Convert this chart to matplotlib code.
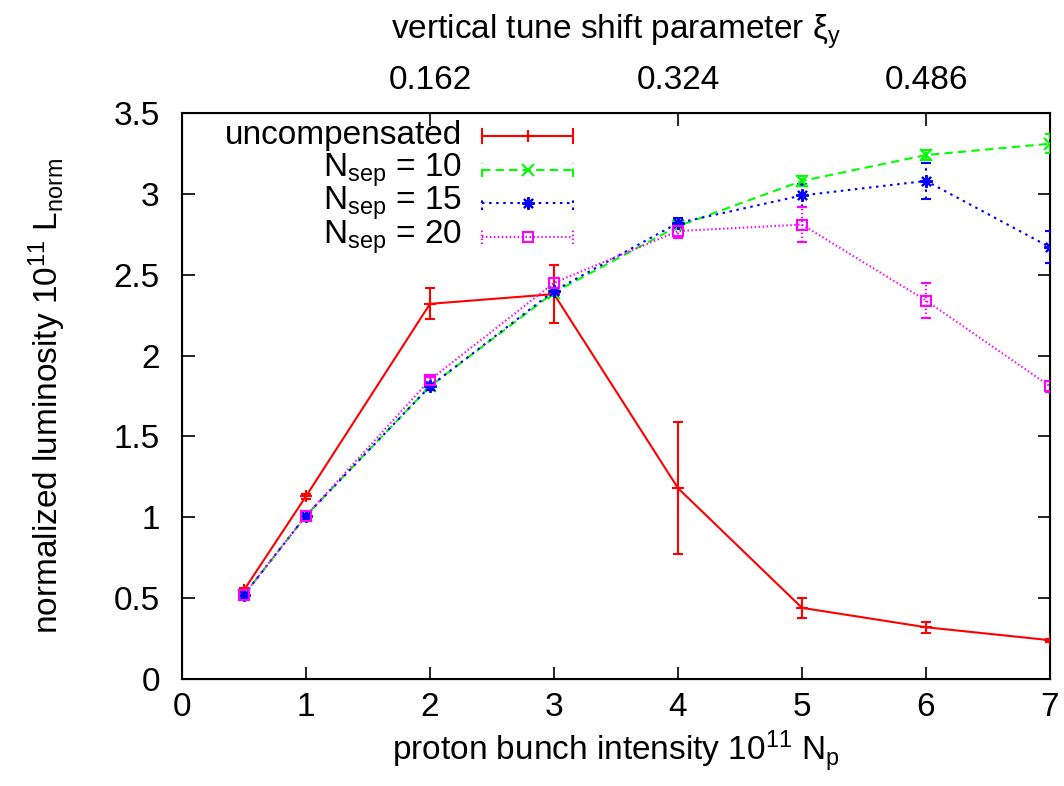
import matplotlib
matplotlib.use("Agg")
import matplotlib.pyplot as plt
from matplotlib.lines import Line2D

plt.rcParams['font.family'] = ['Liberation Sans', 'DejaVu Sans']
plt.rcParams['mathtext.fontset'] = 'custom'
plt.rcParams['mathtext.rm'] = 'Liberation Sans'
plt.rcParams['mathtext.it'] = 'Liberation Sans'
plt.rcParams['mathtext.default'] = 'regular'

# proton bunch intensity (1e11)
intensity = [0.5, 1, 2, 3, 4, 5, 6, 7]

# normalized luminosity and its uncertainty for each configuration
uncomp = [0.55, 1.13, 2.32, 2.38, 1.18, 0.44, 0.32, 0.24]
uncomp_err = [0.015, 0.015, 0.095, 0.18, 0.41, 0.06, 0.035, 0.01]

nsep10 = [0.52, 1.01, 1.81, 2.39, 2.80, 3.08, 3.24, 3.31]
nsep10_err = [0.01, 0.01, 0.01, 0.02, 0.02, 0.03, 0.03, 0.06]

nsep15 = [0.52, 1.01, 1.81, 2.40, 2.82, 2.99, 3.08, 2.67]
nsep15_err = [0.01, 0.01, 0.02, 0.02, 0.03, 0.07, 0.11, 0.10]

nsep20 = [0.52, 1.01, 1.85, 2.45, 2.77, 2.81, 2.34, 1.81]
nsep20_err = [0.01, 0.01, 0.02, 0.03, 0.04, 0.11, 0.11, 0.035]

x_ticks = [0, 1, 2, 3, 4, 5, 6, 7]
y_ticks = [0, 0.5, 1, 1.5, 2, 2.5, 3, 3.5]
top_tick_pos = [2, 4, 6]
top_tick_labels = ['0.162', '0.324', '0.486']

RED = '#ff0000'
GREEN = '#00ff00'
BLUE = '#0000ff'
MAGENTA = '#ff00ff'

FS = 24

fig = plt.figure(figsize=(10.64, 7.86), dpi=100)
ax = fig.add_axes([182 / 1064, 1 - 679 / 786, (1050 - 182) / 1064, (679 - 113) / 786])

asterisk = (8, 2, 0)

series = [
    (uncomp, uncomp_err, RED, '-', '+', 'uncompensated'),
    (nsep10, nsep10_err, GREEN, (0, (4, 2.5)), 'x', r'N$_{sep}$ = 10'),
    (nsep15, nsep15_err, BLUE, (0, (1.2, 2.2)), asterisk, r'N$_{sep}$ = 15'),
    (nsep20, nsep20_err, MAGENTA, (0, (0.7, 1.2)), 's', r'N$_{sep}$ = 20'),
]

lw = 1.5
for vals, errs, col, ls, mk, lab in series:
    ax.plot(intensity, vals, color=col, linestyle=ls, linewidth=lw, zorder=3)
    eb = ax.errorbar(intensity, vals, yerr=errs, fmt='none', ecolor=col,
                     elinewidth=lw, capsize=3.5, capthick=lw, zorder=3)
    for lc in eb[2]:
        lc.set_linestyle(ls)
    ax.plot(intensity, vals, linestyle='none', marker=mk, color=col,
            markersize=9 if mk != 's' else 7.5, markeredgewidth=lw,
            markerfacecolor='none', zorder=4)

ax.set_xlim(0, 7)
ax.set_ylim(0, 3.5)
ax.set_xticks(x_ticks)
ax.set_xticklabels([str(v) for v in x_ticks])
ax.set_yticks(y_ticks)
ax.set_yticklabels(['0', '0.5', '1', '1.5', '2', '2.5', '3', '3.5'])
ax.tick_params(axis='x', direction='in', length=9, width=1.2, labelsize=FS, pad=9,
               top=False)
ax.tick_params(axis='y', direction='in', length=9, width=1.2, labelsize=FS, pad=16,
               right=True)
for sp in ax.spines.values():
    sp.set_linewidth(1.5)

ax.set_xlabel(r'proton bunch intensity 10$^{11}$ N$_{p}$', fontsize=FS, labelpad=5)
ax.set_ylabel(r'normalized luminosity 10$^{11}$ L$_{norm}$', fontsize=FS, labelpad=33)

top = ax.twiny()
top.set_xlim(ax.get_xlim())
top.set_xticks(top_tick_pos)
top.set_xticklabels(top_tick_labels)
top.tick_params(axis='x', direction='in', length=9, width=1.2, labelsize=FS, pad=12.5)
top.set_xlabel(r'vertical tune shift parameter $\xi_y$', fontsize=FS, labelpad=19)

# legend drawn row by row: right-aligned text, line sample to its right
tr = ax.transAxes
text_x = (462 - 182) / 868
l0 = (482 - 182) / 868
l1 = (573 - 182) / 868
lm = (l0 + l1) / 2
rows_y = [(679 - y) / 566 for y in (136, 170, 203, 237)]
cap = 0.012
for (vals, errs, col, ls, mk, lab), yy in zip(series, rows_y):
    ax.text(text_x, yy, lab, transform=tr, ha='right', va='center', fontsize=FS)
    ax.add_line(Line2D([l0, l1], [yy, yy], transform=tr, color=col, linestyle=ls,
                       linewidth=lw, clip_on=False))
    for xe in (l0, l1):
        ax.add_line(Line2D([xe, xe], [yy - cap, yy + cap], transform=tr, color=col,
                           linestyle=ls, linewidth=lw, clip_on=False))
    ax.add_line(Line2D([lm], [yy], transform=tr, color=col, marker=mk,
                       markersize=9 if mk != 's' else 7.5, markeredgewidth=lw,
                       markerfacecolor='none', linestyle='none', clip_on=False))

fig.savefig('out.png', dpi=100)
